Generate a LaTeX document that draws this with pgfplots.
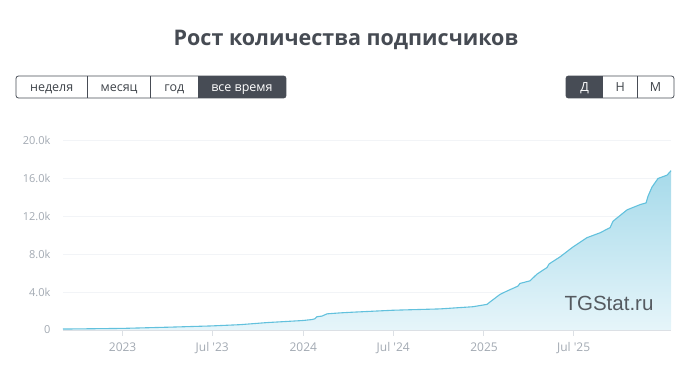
\documentclass[border=0pt]{standalone}
\usepackage{fontspec}
\setmainfont{Open Sans}
\newfontfamily\wmfont{Liberation Sans}
\usepackage{pgfplots}
\usepackage{pgfplotstable}
\pgfplotsset{compat=1.18}
\definecolor{titlec}{HTML}{464B53}
\definecolor{btndark}{HTML}{474C55}
\definecolor{btntext}{HTML}{3E4349}
\definecolor{tickc}{HTML}{A2A9B2}
\definecolor{gridc}{HTML}{F2F4F7}
\definecolor{axisc}{HTML}{DCE0E5}
\definecolor{linec}{HTML}{62C1DD}
\definecolor{filltop}{HTML}{A6DAEA}
\definecolor{fillbot}{HTML}{E6F5FA}
\definecolor{wmc}{HTML}{555A60}
\pgfplotstableread{
x y
2022.670 100
2022.819 130
2023.002 170
2023.262 300
2023.494 430
2023.649 560
2023.799 780
2023.926 920
2023.998 1000
2024.048 1100
2024.064 1180
2024.076 1400
2024.103 1460
2024.131 1700
2024.203 1800
2024.258 1860
2024.496 2080
2024.756 2220
2024.939 2450
2025.017 2700
2025.033 2950
2025.089 3750
2025.127 4100
2025.188 4620
2025.199 4900
2025.255 5180
2025.293 5880
2025.349 6580
2025.360 6950
2025.421 7700
2025.493 8750
2025.570 9720
2025.642 10230
2025.698 10780
2025.714 11450
2025.792 12650
2025.864 13200
2025.897 13380
2025.908 14100
2025.930 15050
2025.963 15950
2026.013 16300
2026.035 16770
}\subs
\begin{document}
\begin{tikzpicture}[x=1pt,y=1pt]
\useasboundingbox (0,0) rectangle (689,391);
\node[font=\fontsize{21.5}{25}\selectfont\bfseries, text=titlec] at (346,351) {Рост количества подписчиков};
% left buttons
\begin{scope}
\clip[rounded corners=2.5] (16,293) rectangle (286,315);
\fill[btndark] (198,293) rectangle (286,315);
\end{scope}
\draw[btndark, line width=0.8, rounded corners=2.5] (16,293) rectangle (286,315);
\draw[btndark, line width=0.8] (87.5,293)--(87.5,315) (150.7,293)--(150.7,315);
\begin{scope}[font=\fontsize{12.5}{15}\selectfont, every node/.style={anchor=base, inner sep=0pt}]
\node[text=btntext] at (51.7,299) {неделя};
\node[text=btntext] at (119.1,299) {месяц};
\node[text=btntext] at (174.3,299) {год};
\node[text=white] at (242,299) {все время};
\end{scope}
% right buttons
\begin{scope}
\clip[rounded corners=2.5] (566,293) rectangle (674,315);
\fill[btndark] (566,293) rectangle (603.3,315);
\end{scope}
\draw[btndark, line width=0.8, rounded corners=2.5] (566,293) rectangle (674,315);
\draw[btndark, line width=0.8] (637.3,293)--(637.3,315);
\begin{scope}[font=\fontsize{12.5}{15}\selectfont, every node/.style={anchor=base, inner sep=0pt}]
\node[text=white] at (584.7,299.5) {Д};
\node[text=btntext] at (620.3,299.5) {Н};
\node[text=btntext] at (655.6,299.5) {М};
\end{scope}
\begin{axis}[
  at={(63pt,61pt)}, anchor=south west, scale only axis,
  width=608pt, height=190pt,
  xmin=2022.67, xmax=2026.035, ymin=0, ymax=20000,
  scaled y ticks=false,
  separate axis lines,
  axis x line*=bottom, axis y line*=left,
  x axis line style={draw=axisc, line width=1.2pt, -},
  y axis line style={draw=none},
  ytick={0,4000,8000,12000,16000,20000},
  yticklabels={0,4.0k,8.0k,12.0k,16.0k,20.0k},
  xtick={2023,2023.496,2024,2024.498,2025,2025.496},
  xticklabels={2023,Jul \textquotesingle23,2024,Jul \textquotesingle24,2025,Jul \textquotesingle25},
  ymajorgrids, grid style={draw=gridc, line width=0.8pt},
  ytick style={draw=none},
  xtick style={draw=axisc, line width=1pt},
  tick align=outside, major tick length=6pt,
  x tick label style={text=tickc, font=\fontsize{12}{14}\selectfont, yshift=-3pt},
  y tick label style={text=tickc, font=\fontsize{11}{14}\selectfont, xshift=-3pt},
  clip=false,
]
\addplot[draw=none, top color=filltop, bottom color=fillbot] table[x=x,y=y]{\subs} \closedcycle;
\addplot[linec, line width=1.1pt, no marks] table[x=x,y=y]{\subs};
\end{axis}
\node[font=\wmfont\fontsize{20.5}{24}\selectfont, text=wmc] at (609,88) {TGStat.ru};
\end{tikzpicture}
\end{document}
